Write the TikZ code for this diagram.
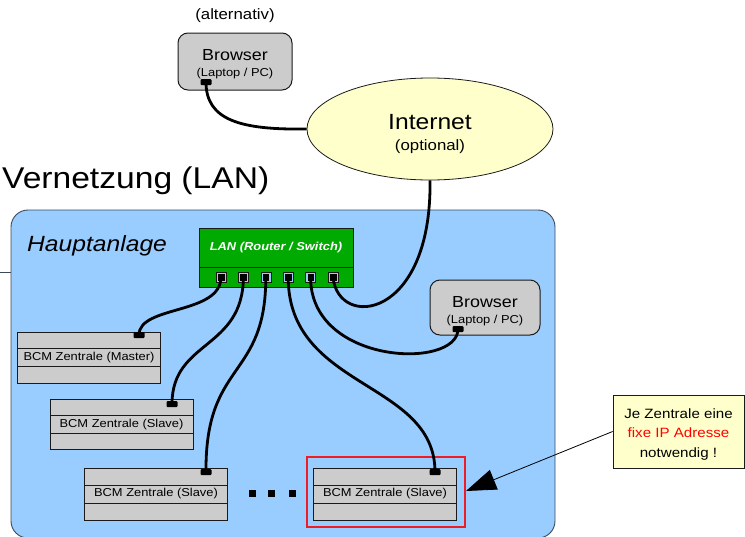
\documentclass[tikz,border=0pt]{standalone}
\usepackage{fontspec}
\setmainfont[FakeStretch=1.12]{Liberation Sans}
\usetikzlibrary{arrows.meta,shapes.geometric}
\newcommand{\fsz}[2]{\fontsize{#1}{#2}\selectfont}
\definecolor{lanblue}{HTML}{99CCFF}
\definecolor{lanedge}{HTML}{3B4A59}
\definecolor{switchgreen}{HTML}{00AA00}
\definecolor{boxgray}{HTML}{CCCCCC}
\definecolor{netyellow}{HTML}{FFFFCC}
\definecolor{markred}{HTML}{FF0000}
\definecolor{framered}{HTML}{EE1C24}
\definecolor{inkdark}{HTML}{1A1A1A}

\begin{document}
\begin{tikzpicture}[
  x=1pt,
  y=-1pt,
  every node/.style={inner sep=0pt, text=black},
  panel/.style={draw=lanedge, line width=0.9pt, fill=lanblue, rounded corners=17pt},
  browserbox/.style={draw=inkdark, line width=1pt, fill=boxgray, rounded corners=10pt,
    minimum width=114pt, minimum height=57pt},
  browsertext/.style={align=center, font=\fsz{16}{16}},
  zentrale/.style={draw=inkdark, line width=0.8pt, fill=boxgray, minimum width=143pt,
    minimum height=18pt, font=\fsz{11.5}{14}},
  switchbox/.style={draw=inkdark, line width=0.8pt, fill=switchgreen, minimum width=154pt},
  port/.style={draw=inkdark, line width=0.6pt, fill=lanblue, minimum size=10pt,
    path picture={\fill[black] ([xshift=-3pt,yshift=-3.5pt]path picture bounding box.center)
      rectangle ([xshift=3.5pt,yshift=3pt]path picture bounding box.center);}},
  plug/.style={fill=black, rounded corners=1pt, minimum width=11pt, minimum height=6pt},
  cable/.style={black, line width=2.8pt},
  dotbox/.style={fill=black, minimum size=7pt},
  notebox/.style={draw=inkdark, line width=0.8pt, fill=netyellow, minimum width=131pt,
    minimum height=73pt},
  pointer/.style={black, line width=0.8pt, -{Triangle[length=30pt, width=21pt]}},
  redframe/.style={draw=framered, line width=1.5pt}
]
  \useasboundingbox (0,0) rectangle (745,536);
  \clip (0,0) rectangle (745,536);

  % ---- title and LAN panel ------------------------------------------------
  \node[anchor=base west, font=\fsz{30}{30}] (title) at (2,188) {Vernetzung (LAN)};
  \draw[panel] (11,210) rectangle (555,538);
  \coordinate (stub) at (0,272);
  \draw[lanedge, line width=0.8pt] (stub) -- (11,272);
  \node[anchor=base west, font=\fsz{22}{22}\itshape] (haupt) at (27,251) {Hauptanlage};

  % ---- internet and the alternative browser -------------------------------
  \node[ellipse, draw=inkdark, line width=0.8pt, fill=netyellow, minimum width=246pt,
    minimum height=102pt] (net) at (430,129) {};
  \node[align=center, font=\fsz{22}{21}] (nettext) at (430,134)
    {Internet\\{\fsz{15}{15}(optional)}};
  \node[font=\fsz{15}{15}] (alt) at (235,16) {(alternativ)};
  \node[browserbox] (browserA) at (235,61.5) {};
  \node[browsertext] (browserAtext) at (235,64.5) {Browser\\{\fsz{11.5}{13}(Laptop / PC)}};
  \node[plug] (aplug) at (206,82) {};

  % ---- switch ---------------------------------------------------------------
  \node[switchbox, minimum height=39pt, text=white, font=\fsz{11.5}{13}\bfseries\itshape]
    (switch) at (276,247.5) {LAN (Router / Switch)};
  \node[switchbox, minimum height=20pt, anchor=north] (ports) at (switch.south) {};
  \node[port] (p1) at (221,277) {};
  \node[port] (p2) at (243.4,277) {};
  \node[port] (p3) at (265.8,277) {};
  \node[port] (p4) at (288.2,277) {};
  \node[port] (p5) at (310.6,277) {};
  \node[port] (p6) at (333,277) {};

  % ---- local browser ---------------------------------------------------------
  \node[browserbox, minimum width=110pt, minimum height=55pt] (browserB) at (485,307.5) {};
  \node[browsertext] (browserBtext) at (485,311.5) {Browser\\{\fsz{11.5}{13}(Laptop / PC)}};
  \node[plug] (bplug) at (458,329) {};

  % ---- BCM Zentralen -----------------------------------------------------------
  \node[zentrale, minimum height=51pt] (master) at (89,357.5) {};
  \node[zentrale] (masterlbl) at (master.center) {BCM Zentrale (Master)};
  \node[plug] (mplug) at (139,335) {};

  \node[zentrale, minimum height=50pt] (slaveA) at (121.5,424.5) {};
  \node[zentrale] (slaveAlbl) at (slaveA.center) {BCM Zentrale (Slave)};
  \node[plug] (s1plug) at (172,404) {};

  \node[zentrale, minimum height=52pt] (slaveB) at (156,494) {};
  \node[zentrale] (slaveBlbl) at (slaveB.center) {BCM Zentrale (Slave)};
  \node[plug] (s2plug) at (206,472) {};

  \node[zentrale, minimum height=52pt] (slaveC) at (385,494) {};
  \node[zentrale] (slaveClbl) at (slaveC.center) {BCM Zentrale (Slave)};
  \node[plug] (s3plug) at (435,472) {};

  \node[dotbox] (d1) at (252,493) {};
  \node[dotbox] (d2) at (271.5,493) {};
  \node[dotbox] (d3) at (292.5,493) {};

  \draw[redframe] (307,457) rectangle (465,527);

  % ---- cables ------------------------------------------------------------------
  \draw[cable] (aplug.center) .. controls (206,120) and (240,130) .. (net.west);
  \draw[cable] (p6.center) .. controls (338,330) and (432,320) .. (net.south);
  \draw[cable] (p5.center) .. controls (310,365) and (458,370) .. (bplug.center);
  \draw[cable] (p4.center) .. controls (288,390) and (435,380) .. (s3plug.center);
  \draw[cable] (p3.center) .. controls (266,380) and (205,360) .. (s2plug.center);
  \draw[cable] (p2.center) .. controls (243,350) and (172,340) .. (s1plug.center);
  \draw[cable] (p1.center) .. controls (221,315) and (139,305) .. (mplug.center);

  % ---- note ----------------------------------------------------------------------
  \node[notebox] (note) at (678.5,431.5) {};
  \node[align=center, font=\fsz{13.5}{19.5}] (notetext) at (678.5,434.5)
    {Je Zentrale eine\\{\color{markred}fixe IP Adresse}\\notwendig !};
  \coordinate (hit) at (466,491);
  \draw[pointer] (note.west) -- (hit);
\end{tikzpicture}
\end{document}
